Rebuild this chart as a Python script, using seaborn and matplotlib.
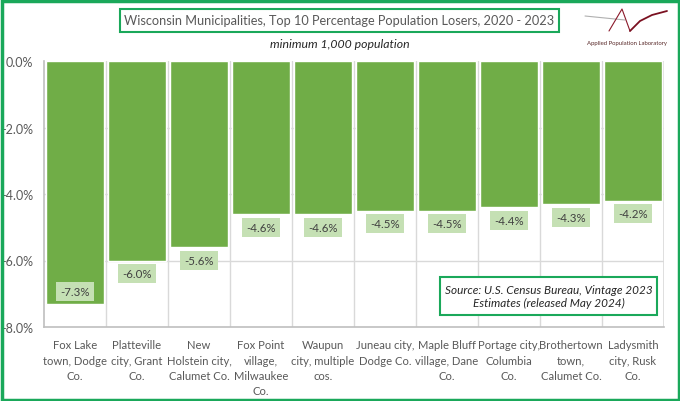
import matplotlib
matplotlib.use("Agg")
import matplotlib.pyplot as plt
from matplotlib.patches import Rectangle
from matplotlib.lines import Line2D
from matplotlib.ticker import FuncFormatter, MultipleLocator
import seaborn as sns
import pandas as pd
import numpy as np

categories = [
    "Fox Lake\ntown, Dodge\nCo.",
    "Platteville\ncity, Grant\nCo.",
    "New\nHolstein city,\nCalumet Co.",
    "Fox Point\nvillage,\nMilwaukee\nCo.",
    "Waupun\ncity, multiple\ncos.",
    "Juneau city,\nDodge Co.",
    "Maple Bluff\nvillage, Dane\nCo.",
    "Portage city,\nColumbia\nCo.",
    "Brothertown\ntown,\nCalumet Co.",
    "Ladysmith\ncity, Rusk\nCo.",
]
values = [-7.3, -6.0, -5.6, -4.6, -4.6, -4.5, -4.5, -4.4, -4.3, -4.2]
labels = ["-7.3%", "-6.0%", "-5.6%", "-4.6%", "-4.6%", "-4.5%", "-4.5%", "-4.4%", "-4.3%", "-4.2%"]

title = "Wisconsin Municipalities, Top 10 Percentage Population Losers, 2020 - 2023"
subtitle = "minimum 1,000 population"
source = "Source: U.S. Census Bureau, Vintage 2023\nEstimates (released May 2024)"
logo_text = "Applied Population Laboratory"

sns.set_theme(style="white")
plt.rcParams["font.family"] = ["Lato", "DejaVu Sans"]

GREEN_BORDER = "#1aa85a"
BAR = "#70ad47"
LABEL_BG = "#c5e0b4"
TXT = "#595959"
GRID = "#d9d9d9"

W, H = 680, 402
fig = plt.figure(figsize=(6.8, 4.02), dpi=100)
fig.patch.set_facecolor("white")

def fx(x):
    return x / W

def fy(y):
    return 1 - y / H

ax = fig.add_axes([fx(44), fy(328), fx(664) - fx(44), fy(62) - fy(328)])

df = pd.DataFrame({"cat": categories, "val": values})
sns.barplot(data=df, x="cat", y="val", color=BAR, saturation=1, width=0.92, ax=ax, zorder=3)

ax.set_ylim(-8, 0)
ax.set_xlim(-0.5, len(categories) - 0.5)
ax.yaxis.set_major_locator(MultipleLocator(2))
ax.yaxis.set_major_formatter(FuncFormatter(lambda v, p: f"{v:.1f}%"))
ax.set_xlabel("")
ax.set_ylabel("")

# gridlines
for yv in [-2, -4, -6]:
    ax.axhline(yv, color=GRID, lw=1, zorder=1)
for xv in np.arange(0.5, len(categories) - 0.5, 1):
    ax.axvline(xv, color=GRID, lw=1, zorder=1)
ax.axvline(len(categories) - 0.5, color=GRID, lw=1.2, zorder=1)

for s in ["top", "right"]:
    ax.spines[s].set_visible(False)
for s in ["left", "bottom"]:
    ax.spines[s].set_color("#bfbfbf")
    ax.spines[s].set_linewidth(1.2)

ax.tick_params(axis="y", labelsize=9, colors=TXT, length=0, pad=8)
ax.tick_params(axis="x", labelsize=8.1, colors=TXT, length=0, pad=9)
for t in ax.get_xticklabels():
    t.set_linespacing(1.45)
    t.set_verticalalignment("top")

# data labels
for i, (v, lab) in enumerate(zip(values, labels)):
    off = 9 if v < -7 else -9.5
    ax.annotate(lab, xy=(i, v), xytext=(0, off), textcoords="offset points",
                ha="center", va="center", fontsize=8.3, color="#404040",
                bbox=dict(boxstyle="square,pad=0.35", fc=LABEL_BG, ec="none"),
                zorder=5)

# outer border
fig.patches.append(Rectangle((fx(1.5), fy(400.5)), fx(677), fy(1.5) - fy(400.5),
                             transform=fig.transFigure, fill=False,
                             ec=GREEN_BORDER, lw=2.5, zorder=10))

# title box
fig.patches.append(Rectangle((fx(120), fy(32.5)), fx(439), fy(9.5) - fy(32.5),
                             transform=fig.transFigure, fill=False,
                             ec=GREEN_BORDER, lw=1.5, zorder=10))
fig.text(fx(339.5), fy(21), title, ha="center", va="center", fontsize=9.2, color=TXT)
fig.text(fx(340), fy(44), subtitle, ha="center", va="center", fontsize=8.8,
         style="italic", color="#262626")

# source box
fig.patches.append(Rectangle((fx(440), fy(316)), fx(217), fy(278) - fy(316),
                             transform=fig.transFigure, fc="white",
                             ec=GREEN_BORDER, lw=1.5, zorder=10))
fig.text(fx(548.5), fy(297), source, ha="center", va="center", fontsize=8.5,
         style="italic", color="#262626", linespacing=1.3, zorder=11)

# logo
fig.add_artist(Line2D([fx(585), fx(625)], [fy(17), fy(21)], color="#b0b0b0", lw=0.8))
fig.add_artist(Line2D([fx(609), fx(622), fx(630)], [fy(32), fy(10), fy(32)],
                      color="#8b1a2b", lw=0.8))
fig.add_artist(Line2D([fx(630), fx(640), fx(652), fx(667)],
                      [fy(32), fy(22), fy(16), fy(12)], color="#7a1020", lw=1.3))
fig.text(fx(627), fy(43), logo_text, ha="center", va="center", fontsize=4.3, color="#5a2a2a")

fig.savefig("out.png", dpi=100, facecolor="white")
